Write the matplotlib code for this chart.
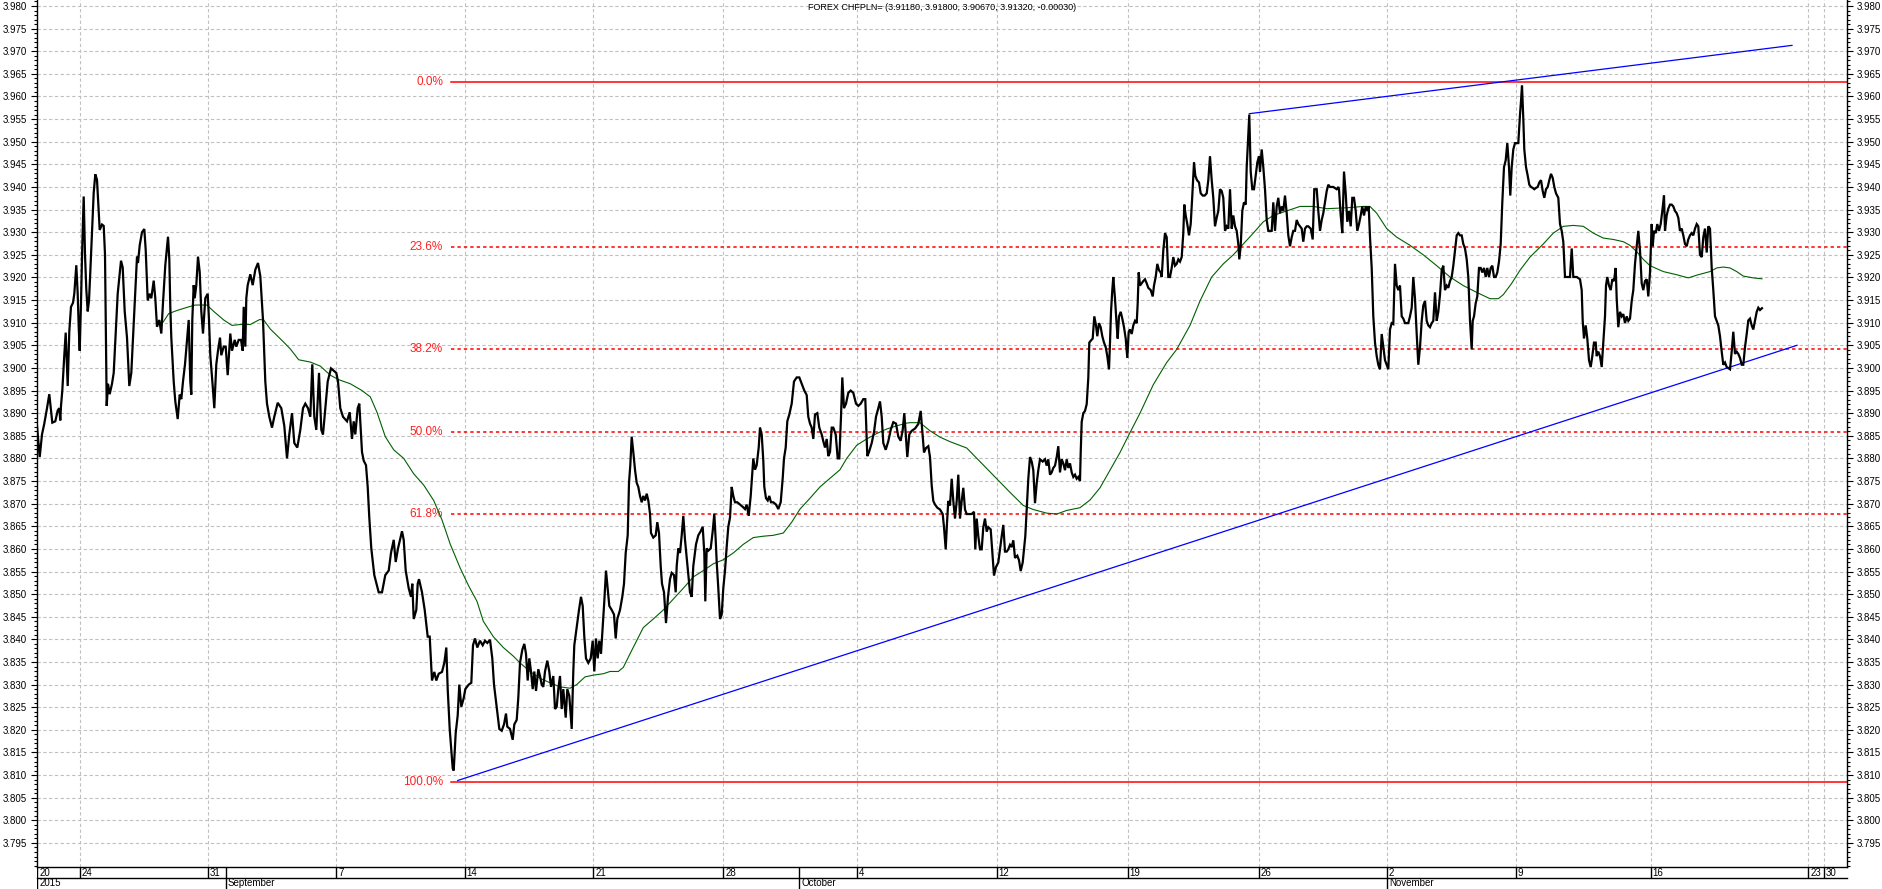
import numpy as np
import matplotlib
matplotlib.use("Agg")
import matplotlib.pyplot as plt
from matplotlib.ticker import MultipleLocator, FormatStrFormatter, FixedLocator

plt.rcParams['font.family'] = ['Liberation Sans', 'DejaVu Sans']

# ---------------- data ----------------
title = "FOREX CHFPLN= (3.91180, 3.91800, 3.90670, 3.91320, -0.00030)"

# price (bar index, value), in four segments
seg1_x = [0,2.7,5,7.3,10,12.3,14,15.3,18.3,20.7,22.3,23.3,24,25.3,27.3,28.7,30.7,32.3,34,36,37.3,39.3,40.7,41.7,42.7,44,45.3,46.7,48,49.3,50.7,52,53.3,55,56.7,58.3,60,61.3,62.7,65,66.7,68,68.7,69.7,71,72.7,75,76.7,78.7,80.7,84,85.7,87.7,90,92.3,94.3,96,97.7,100,101,102.7,105,107.3,108.7,110.7,112.7,114.3,116.7,118.3,120,122.3,124.3,126,128.3,131,132.3,133.3,134.3,135.3,136.7,138.3,140.7,142.7,144.3,146,148,150,151.7,153.3,154.3,155.3,156.7,157.7,159.3,161,162.7,164.3,166,168.3,170.7,172,173.3,175.7,177.3,179.3,181,183,184.3,186.7,188.7,190.7,191.7,193.3,195,197.7,199.3,201.7,204,205.7,206.7,208.3,209.3,210.7,213.3,215.7,218.3,221,223.3,226,228.3,230,232.3,235,237.3,240.7,244.3,247.3,250,252.3,255,257.3,260.3,263.3,266,268.3,271,273.3,275.3,277.3,279.3,282,284.3,286,288.3,290.7,294,296.7,299.3,301,303.3,306,310,312.7,315,316.7,318.3,320.7,322.3,323.3,325,326.7,329,330.7,332.3,334.3,337.3,341.7,345,348.3,351.7,354,356.7,358.7,361,365,366.7,368.7,371.7,374,375.3,376.7,379.3,380.7,382,385,387.7,390.7,392.7,395,397.3,399.3,401.7,405,407.3,409.3,410.7,412.7,414,415.7,416.7,418.7,420.7,422.3,424.3,426.7,428.3,431.7,434.3,436,438]
seg1_y = [3.8872,3.8803,3.8853,3.8877,3.8911,3.8942,3.8906,3.8879,3.8882,3.8906,3.8911,3.8884,3.8916,3.8950,3.9028,3.9078,3.8960,3.9081,3.9135,3.9144,3.9164,3.9227,3.9164,3.9091,3.9038,3.9144,3.9271,3.9379,3.9251,3.9174,3.9125,3.9149,3.9212,3.9300,3.9387,3.9428,3.9416,3.9363,3.9305,3.9317,3.9314,3.9251,3.9106,3.8916,3.8965,3.8942,3.8965,3.8989,3.9076,3.9164,3.9237,3.9222,3.9125,3.9067,3.8960,3.8989,3.9067,3.9149,3.9246,3.9232,3.9271,3.9300,3.9307,3.9261,3.9149,3.9164,3.9154,3.9193,3.9154,3.9091,3.9106,3.9076,3.9144,3.9227,3.9290,3.9241,3.9135,3.9067,3.9028,3.8970,3.8926,3.8887,3.8941,3.8931,3.8970,3.9008,3.9062,3.9106,3.8970,3.8941,3.9106,3.9183,3.9154,3.9183,3.9246,3.9212,3.9125,3.9076,3.9154,3.9164,3.9106,3.9028,3.8960,3.8911,3.9008,3.9038,3.9067,3.9028,3.9047,3.9047,3.8984,3.9018,3.9076,3.9038,3.9062,3.9047,3.9062,3.9062,3.9038,3.9135,3.9047,3.9154,3.9183,3.9207,3.9183,3.9217,3.9232,3.9203,3.9106,3.8970,3.8921,3.8892,3.8868,3.8892,3.8923,3.8911,3.8872,3.8800,3.8853,3.8900,3.8834,3.8824,3.8863,3.8911,3.8921,3.8911,3.8892,3.9008,3.8892,3.8863,3.8989,3.8863,3.8853,3.8911,3.8970,3.8999,3.8994,3.8989,3.8970,3.8911,3.8892,3.8882,3.8902,3.8843,3.8882,3.8853,3.8911,3.8921,3.8882,3.8814,3.8795,3.8785,3.8737,3.8669,3.8601,3.8542,3.8504,3.8504,3.8542,3.8552,3.8591,3.8620,3.8571,3.8601,3.8639,3.8620,3.8552,3.8513,3.8494,3.8523,3.8445,3.8465,3.8523,3.8533,3.8504,3.8465,3.8406,3.8406,3.8309,3.8328,3.8309,3.8324,3.8328,3.8348,3.8382,3.8290,3.8202,3.8164,3.8115,3.8110,3.8193,3.8232,3.8300,3.8251,3.8270,3.8290,3.8300,3.8304,3.8387,3.8402]

seg2_x = [440.3,443,445.7,448,450.3,453,455.3,457,459.7,462.3,464.7,467,469,470.3,473,475.7,477.3,479.7,481.3,483,485.3,487.3,489,490.7,492.3,494,495.7,497.3,499,501.3,503,504.7,506.3,508,510.3,512.3,514,516.3,518,519.7,521.3,523,524.7,526.3,528.7,530.3,532.3,534.7,536.3,537.3,539.7,542,544,545.7,547.3,549,551.3,553.7,555.7,557.3,559,560.7,562.3,564,565.7,567.3,569,570.7,572.3,574.7,577,578.7,580.3,583,585.3,587,588.7,590.7,592,593.3,594.7,596.3,598,599.7,601.3,603,604.7,606.3,608,609.7,611.3,613,614,616.3,618.7,620.3,622,623.7,625,627,629,631,633,634.7,637,638.7,639.7,641.3,643,644.7,646.3,648,649.7,651.3,653,654.7,656.3,659,661.3,663.7,665.7,667.3,668.3,669.7,671.3,673.7,675.7,677.3,678.7,679.7,681.3,683,684.7,686.3,688,689.7,691.3,693,694.7,696.3,698,700.3,703,705.7,708,709.7,711.7,713.7,715.3,716.3,718,719.7,721.7,723,724.7,726.3,727.3,729,730.7,732.3,734,736.3,739,741.3,743.7,745.7,747,748.7,750.3,752.3,754.7,757,759.7,762.3,764.7,767.3,769.7,771.3,773,774.7,776.3,778,780.3,782.3,784.7,786.3,788,789.7,791.3,793,794.7,796.3,798.7,800.7,802.3,804,805.3,807,809,811.3,813.7,816.3,819,821.3,823.7,826.3,828.3,830.3,832,834.7,837,839,841.3,843,844.7,846.3,848.7,851.3,853.7,856.3,859,861.3,863.7,865.7,867.3,868.7,870.3,872.3]
seg2_y = [3.8382,3.8397,3.8387,3.8397,3.8392,3.8399,3.8358,3.8300,3.8251,3.8202,3.8198,3.8212,3.8236,3.8207,3.8202,3.8178,3.8212,3.8222,3.8271,3.8348,3.8377,3.8390,3.8368,3.8309,3.8358,3.8329,3.8290,3.8329,3.8286,3.8334,3.8319,3.8300,3.8295,3.8329,3.8353,3.8329,3.8295,3.8319,3.8246,3.8251,3.8290,3.8319,3.8246,3.8290,3.8227,3.8290,3.8275,3.8202,3.8329,3.8387,3.8426,3.8465,3.8494,3.8474,3.8406,3.8358,3.8348,3.8358,3.8397,3.8329,3.8402,3.8358,3.8397,3.8368,3.8426,3.8484,3.8552,3.8513,3.8474,3.8465,3.8455,3.8402,3.8445,3.8465,3.8494,3.8523,3.8591,3.8630,3.8746,3.8785,3.8848,3.8814,3.8775,3.8746,3.8737,3.8717,3.8703,3.8717,3.8707,3.8722,3.8707,3.8678,3.8635,3.8625,3.8630,3.8659,3.8635,3.8562,3.8523,3.8504,3.8436,3.8494,3.8533,3.8547,3.8542,3.8504,3.8562,3.8601,3.8591,3.8630,3.8673,3.8620,3.8581,3.8542,3.8504,3.8494,3.8562,3.8610,3.8630,3.8639,3.8649,3.8591,3.8484,3.8601,3.8596,3.8601,3.8639,3.8678,3.8620,3.8571,3.8513,3.8445,3.8455,3.8513,3.8552,3.8605,3.8649,3.8669,3.8737,3.8717,3.8703,3.8703,3.8698,3.8693,3.8688,3.8698,3.8673,3.8717,3.8766,3.8800,3.8775,3.8785,3.8824,3.8868,3.8853,3.8795,3.8737,3.8712,3.8707,3.8717,3.8703,3.8703,3.8698,3.8688,3.8703,3.8756,3.8800,3.8824,3.8882,3.8897,3.8921,3.8970,3.8979,3.8979,3.8965,3.8950,3.8940,3.8892,3.8877,3.8868,3.8843,3.8897,3.8900,3.8868,3.8853,3.8838,3.8824,3.8843,3.8805,3.8814,3.8868,3.8868,3.8853,3.8800,3.8800,3.8892,3.8979,3.8911,3.8921,3.8945,3.8950,3.8945,3.8921,3.8916,3.8921,3.8931,3.8931,3.8805,3.8814,3.8834,3.8858,3.8892,3.8911,3.8926,3.8892,3.8834,3.8819,3.8838,3.8863,3.8880,3.8877,3.8848,3.8839,3.8863,3.8900,3.8853,3.8803,3.8853]

seg3_x = [874.7,878,881.3,883.7,885.3,887,889,891.3,893,894.7,896.3,898,900.3,903,905.7,907,908.7,910,911.3,913,914.7,916.3,918,919.7,921.3,923,924.7,926.3,928,929.7,932.3,934.7,937,938.3,939.7,941.3,943,944.7,946.3,948,949.7,951.3,953.7,955.3,957,959,961.3,963,964.7,966.3,968,969.7,971.3,973,974.7,976.3,978,980.3,982,983.7,985.7,987,988.3,989.7,991.3,993,994.7,996.3,998,999.7,1001.3,1003,1005.7,1008,1009.7,1011.3,1013,1014.7,1016.3,1018,1019.7,1021.3,1023,1024.7,1026.3,1028,1029.7,1031.3,1033,1034.7,1036.3,1038,1039.7,1041.3,1043,1043.7,1044.7,1046.3,1048,1049.7,1051.3,1052.3,1053.7,1055.7,1057.3,1059,1060.3,1062,1063.7,1065.3,1067,1068.7,1070.3,1072,1073,1074,1075.3,1076.3,1078,1079.7,1080.7,1082,1083.7,1085.3,1087,1088.7,1090.3,1091.7,1093,1094.7,1096.3,1098,1099.7,1100.7,1101.7,1103,1104.7,1106.3,1108,1109.7,1111.3,1113.7,1115.7,1117,1118.7,1120.3,1122,1123.7,1124.7,1126.3,1128,1129.7,1131.3,1133,1134.7,1136.3,1138,1139.7,1141.3,1143,1144.7,1146.3,1147.3,1148.7,1150.3,1152,1153.7,1155.3,1157,1158.3,1160,1162,1163.7,1165.7,1167.7,1169.7,1171.3,1173,1174.7,1176.3,1178,1179.7,1181.3,1183,1184.7,1186.3,1188,1189.7,1191.3,1193,1194.7,1196.3,1198,1199.7,1201.3,1202.3,1203.7,1205.3,1207,1208.7,1209.7,1211,1212.3,1213.7,1215.3,1217,1218.7,1220.3,1222,1223,1224.7,1226.3,1228,1229.7,1231.3,1233,1234.7,1236.3,1238,1239.7,1241.3,1243,1244.7,1246.3,1248,1249.7,1251.3,1253,1254.7,1256.3,1258,1259.7,1261.3,1263,1264.7,1266.3,1268,1269.7,1271.3,1273.7,1275.7,1277.3,1279.7,1281.3,1283,1284.7,1286.3,1288,1289.7,1291.3,1293,1296.3,1299.7,1301.3]
seg3_y = [3.8861,3.8866,3.8876,3.8905,3.8861,3.8813,3.8823,3.8827,3.8803,3.8740,3.8706,3.8698,3.8691,3.8687,3.8677,3.8648,3.8599,3.8657,3.8706,3.8696,3.8755,3.8706,3.8667,3.8706,3.8764,3.8667,3.8706,3.8735,3.8687,3.8677,3.8677,3.8677,3.8682,3.8599,3.8667,3.8628,3.8599,3.8599,3.8648,3.8667,3.8638,3.8648,3.8643,3.8594,3.8541,3.8560,3.8570,3.8599,3.8628,3.8653,3.8594,3.8594,3.8599,3.8609,3.8604,3.8619,3.8580,3.8585,3.8575,3.8551,3.8570,3.8599,3.8628,3.8687,3.8755,3.8803,3.8793,3.8774,3.8701,3.8745,3.8774,3.8798,3.8793,3.8798,3.8784,3.8798,3.8764,3.8769,3.8779,3.8784,3.8803,3.8827,3.8769,3.8798,3.8789,3.8774,3.8798,3.8779,3.8789,3.8769,3.8759,3.8764,3.8755,3.8759,3.8750,3.8813,3.8881,3.8900,3.8905,3.8920,3.8978,3.9056,3.9060,3.9065,3.9114,3.9094,3.9070,3.9099,3.9090,3.9070,3.9056,3.9046,3.9026,3.8997,3.9056,3.9124,3.9172,3.9201,3.9153,3.9094,3.9065,3.9114,3.9124,3.9109,3.9090,3.9065,3.9022,3.9080,3.9085,3.9075,3.9094,3.9104,3.9099,3.9143,3.9211,3.9182,3.9187,3.9192,3.9196,3.9187,3.9177,3.9172,3.9158,3.9182,3.9201,3.9230,3.9216,3.9211,3.9201,3.9260,3.9298,3.9289,3.9201,3.9201,3.9221,3.9245,3.9226,3.9230,3.9240,3.9235,3.9245,3.9298,3.9361,3.9337,3.9318,3.9293,3.9318,3.9381,3.9454,3.9425,3.9415,3.9410,3.9386,3.9381,3.9381,3.9386,3.9415,3.9468,3.9415,3.9376,3.9313,3.9332,3.9347,3.9395,3.9391,3.9376,3.9303,3.9313,3.9308,3.9395,3.9308,3.9337,3.9313,3.9303,3.9274,3.9240,3.9269,3.9347,3.9366,3.9361,3.9444,3.9502,3.9560,3.9434,3.9395,3.9395,3.9425,3.9454,3.9468,3.9434,3.9483,3.9444,3.9395,3.9327,3.9303,3.9303,3.9303,3.9366,3.9303,3.9357,3.9376,3.9342,3.9357,3.9347,3.9381,3.9342,3.9293,3.9269,3.9289,3.9303,3.9303,3.9327,3.9318,3.9313,3.9308,3.9279,3.9308,3.9313,3.9313,3.9308,3.9284,3.9395,3.9395,3.9347,3.9303,3.9327,3.9342,3.9366,3.9391,3.9405,3.9400,3.9400,3.9395,3.9400]

seg4_x = [1302,1303.7,1305.3,1307,1308.7,1310.3,1312,1313.7,1315.3,1317,1318.7,1320.3,1322,1323.7,1325.3,1327,1328.7,1330.3,1331.7,1333,1334.7,1336.3,1338,1339.7,1341.3,1343,1344.7,1346.3,1348,1349.7,1351.3,1353,1354.7,1356.3,1358,1359.7,1361.3,1363,1364.7,1366.3,1368,1369.7,1371.3,1373,1374.7,1376.3,1378,1379.7,1381.3,1383,1384.7,1386.3,1388,1389.7,1391.3,1393,1394.7,1396.3,1398,1399.7,1401.3,1403,1404.7,1406.3,1408,1409.7,1411.3,1413,1414.7,1416.3,1418,1419.7,1421.3,1423,1424.7,1426.3,1428,1429.7,1431.3,1433,1434.7,1435.7,1437,1438.7,1440.3,1442,1443.7,1445.3,1447,1448.7,1450.3,1452,1453.7,1455.3,1457,1458.7,1460.3,1462,1463.7,1465.3,1467,1468.7,1470.3,1472,1473.3,1474.7,1476.3,1478,1479.7,1481.3,1483,1484,1485,1486.3,1487.3,1489,1490.7,1492.3,1494,1495.7,1497.3,1499,1500.7,1502.3,1504,1505.7,1507.3,1509,1510.7,1512.3,1514,1515.7,1517.3,1519,1521.3,1523,1524.7,1526.3,1528,1531.3,1533,1534.7,1536.3,1539.7,1543,1544.7,1545.7,1547,1548.7,1550.3,1552,1553.7,1555.3,1557,1558.7,1559.7,1561.3,1563,1564.7,1566.3,1568,1569,1570.3,1572,1573.7,1575.3,1577,1578.7,1579.7,1581.3,1583,1584.7,1586.3,1588,1589.7,1591.3,1593,1594.7,1596.3,1598,1599.7,1601.3,1603,1604.7,1606.3,1608,1609.7,1611.3,1613,1614.7,1615.7,1617,1618.7,1620.3,1622,1623.7,1625.3,1627,1628,1629.7,1631.3,1633,1634.7,1636.3,1638,1639.7,1641.3,1643,1644.7,1646.3,1648,1649.7,1651.3,1653,1654.7,1656.3,1658,1659.7,1661.3,1663,1664.7,1666.3,1668,1669.7,1671.3,1673,1674.7,1676.3,1678,1679.7,1681.3,1683,1684.7,1686.3,1688,1689.7,1693,1694.7,1696.3,1698,1699.7,1701.3,1703,1704.7,1706.3,1708,1709.7,1711.3,1713,1714.7,1716.3,1718,1719.7,1721.3,1723,1725]
seg4_y = [3.9395,3.9337,3.9298,3.9434,3.9386,3.9323,3.9347,3.9313,3.9376,3.9376,3.9347,3.9303,3.9318,3.9337,3.9357,3.9337,3.9357,3.9347,3.9357,3.9289,3.9221,3.9114,3.9056,3.9026,3.9007,3.8997,3.9075,3.9046,3.9017,3.9007,3.8997,3.9085,3.9099,3.9097,3.9230,3.9182,3.9172,3.9182,3.9114,3.9109,3.9099,3.9099,3.9099,3.9114,3.9133,3.9201,3.9153,3.9075,3.9007,3.9046,3.9104,3.9138,3.9148,3.9104,3.9094,3.9090,3.9099,3.9104,3.9167,3.9104,3.9124,3.9162,3.9216,3.9226,3.9172,3.9182,3.9177,3.9192,3.9201,3.9226,3.9260,3.9293,3.9298,3.9293,3.9293,3.9274,3.9264,3.9240,3.9201,3.9104,3.9041,3.9104,3.9114,3.9143,3.9158,3.9221,3.9221,3.9211,3.9221,3.9201,3.9221,3.9201,3.9221,3.9226,3.9201,3.9201,3.9211,3.9235,3.9274,3.9366,3.9444,3.9459,3.9497,3.9444,3.9381,3.9444,3.9483,3.9497,3.9497,3.9497,3.9560,3.9590,3.9624,3.9551,3.9483,3.9444,3.9425,3.9405,3.9400,3.9398,3.9395,3.9398,3.9400,3.9410,3.9415,3.9391,3.9376,3.9395,3.9400,3.9415,3.9429,3.9420,3.9400,3.9386,3.9376,3.9318,3.9303,3.9279,3.9201,3.9201,3.9201,3.9264,3.9201,3.9201,3.9196,3.9172,3.9104,3.9065,3.9094,3.9065,3.9017,3.9002,3.9026,3.9056,3.9056,3.9026,3.9036,3.9026,3.9002,3.9056,3.9114,3.9182,3.9201,3.9182,3.9172,3.9196,3.9192,3.9221,3.9153,3.9090,3.9124,3.9114,3.9119,3.9099,3.9114,3.9104,3.9109,3.9148,3.9172,3.9230,3.9269,3.9303,3.9260,3.9187,3.9172,3.9192,3.9196,3.9158,3.9211,3.9318,3.9269,3.9303,3.9298,3.9318,3.9303,3.9318,3.9347,3.9381,3.9303,3.9337,3.9352,3.9361,3.9361,3.9357,3.9347,3.9342,3.9332,3.9303,3.9308,3.9293,3.9274,3.9269,3.9284,3.9293,3.9298,3.9293,3.9308,3.9318,3.9313,3.9250,3.9245,3.9289,3.9308,3.9255,3.9313,3.9308,3.9221,3.9172,3.9114,3.9104,3.9094,3.9070,3.9036,3.9007,3.9012,3.9002,3.8997,3.9036,3.9080,3.9031,3.9036,3.9031,3.9022,3.9007,3.9007,3.9046,3.9075,3.9105,3.9109,3.9094,3.9085,3.9104,3.9124,3.9133,3.9128,3.9132]

# moving average (green)
ma_x = [126,131.7,140,151.7,158.3,170,176.7,186.7,195,203.3,213.3,222.7,226.7,233.3,246.7,253.3,261.7,273.3,283.3,293.3,301.7,313.3,325,333.3,340,348.3,356.7,366.7,376.7,386.7,396.7,405,413.3,423.3,431.7,440,446.3,456.3,466.3,476.3,483,493,503,513,523,533,539.7,548,556.3,566.3,573,581.3,586.3,593,599.7,606.3,616.3,626.3,636.3,646.3,656.3,666.3,676.3,686.3,696.3,706.3,716.3,726.3,736.3,746.3,754.7,763,773,783,793,803,809.7,819.7,829.7,839.7,849.7,859.7,869.7,873,883,893,903,913,929.7,943,959.7,973,986.3,996.3,1009.7,1019.7,1029.7,1043,1053,1063,1073,1083,1093,1103,1116.3,1129.7,1139.7,1153,1163,1174.7,1186.3,1196.3,1206.3,1216.3,1226.3,1236.3,1249.7,1263,1276.3,1289.7,1309.7,1326.3,1333,1339.7,1349.7,1359.7,1373,1386.3,1399.7,1413,1426.3,1439.7,1453,1461.3,1466.3,1474.7,1483,1493,1506.3,1516.3,1526.3,1536.3,1546.3,1556.3,1566.3,1576.3,1586.3,1593,1599.7,1606.3,1613,1626.3,1639.7,1651.3,1659.7,1673,1679.7,1686.3,1693,1699.7,1706.3,1716.3,1725]
ma_y = [3.9101,3.9120,3.9127,3.9135,3.9139,3.9139,3.9125,3.9106,3.9094,3.9096,3.9096,3.9107,3.9106,3.9086,3.9057,3.9042,3.9018,3.9013,3.9004,3.8984,3.8974,3.8965,3.8950,3.8936,3.8902,3.8848,3.8819,3.8800,3.8766,3.8741,3.8707,3.8664,3.8610,3.8557,3.8518,3.8484,3.8440,3.8406,3.8382,3.8363,3.8348,3.8329,3.8314,3.8304,3.8295,3.8292,3.8300,3.8317,3.8321,3.8324,3.8329,3.8329,3.8338,3.8368,3.8397,3.8426,3.8445,3.8465,3.8489,3.8513,3.8538,3.8552,3.8567,3.8576,3.8591,3.8610,3.8625,3.8628,3.8630,3.8635,3.8659,3.8688,3.8712,3.8737,3.8756,3.8775,3.8800,3.8829,3.8843,3.8855,3.8865,3.8872,3.8878,3.8879,3.8879,3.8861,3.8847,3.8837,3.8823,3.8793,3.8755,3.8725,3.8696,3.8687,3.8679,3.8677,3.8685,3.8691,3.8708,3.8735,3.8774,3.8813,3.8857,3.8900,3.8963,3.9012,3.9041,3.9094,3.9148,3.9201,3.9230,3.9250,3.9274,3.9298,3.9323,3.9337,3.9347,3.9357,3.9357,3.9352,3.9354,3.9357,3.9357,3.9342,3.9308,3.9289,3.9271,3.9250,3.9226,3.9201,3.9182,3.9167,3.9153,3.9153,3.9162,3.9187,3.9216,3.9245,3.9274,3.9298,3.9313,3.9315,3.9313,3.9298,3.9287,3.9284,3.9279,3.9271,3.9257,3.9240,3.9226,3.9213,3.9206,3.9199,3.9205,3.9213,3.9221,3.9223,3.9221,3.9213,3.9203,3.9199,3.9197]

# trend lines (blue): (x0, y0, x1, y1)
support_line = (420.7, 3.8088, 1760, 3.9050)
resist_line = (1212.3, 3.9562, 1755, 3.9713)

# fibonacci retracement
fib_high = 3.9633
fib_low = 3.8085
fib_ratios = [0.0, 0.236, 0.382, 0.5, 0.618, 1.0]
fib_labels = ["0.0%", "23.6%", "38.2%", "50.0%", "61.8%", "100.0%"]
fib_start = 414

# x axis (bar index) date ticks
day_ticks = [0, 42.7, 170.7, 299.3, 427.7, 556.3, 686.3, 819.7, 959.7, 1090.7, 1221.7, 1349.7, 1478.7, 1613.7, 1771, 1787]
day_labels = ["20", "24", "31", "7", "14", "21", "28", "4", "12", "19", "26", "2", "9", "16", "23", "30"]
month_ticks = [0, 188.7, 762, 1349.7]
month_labels = ["2015", "September", "October", "November"]
y_major = [3.795, 3.800, 3.805, 3.810, 3.815, 3.820, 3.825, 3.830, 3.835, 3.840,
           3.845, 3.850, 3.855, 3.860, 3.865, 3.870, 3.875, 3.880, 3.885, 3.890,
           3.895, 3.900, 3.905, 3.910, 3.915, 3.920, 3.925, 3.930, 3.935, 3.940,
           3.945, 3.950, 3.955, 3.960, 3.965, 3.970, 3.975, 3.980]
x_max = 1810
y_min, y_max = 3.78968, 3.98133

# ---------------- figure ----------------
W, H = 1883, 889
fig = plt.figure(figsize=(W / 100, H / 100), dpi=100)
ax = fig.add_axes([37 / W, 22 / H, 1810 / W, 867 / H])
ax.set_xlim(0, x_max)
ax.set_ylim(y_min, y_max)

grid_kw = dict(color='#c0c0c0', lw=0.8, ls=(0, (3.0, 2.2)), zorder=0)
for t in day_ticks[1:]:
    ax.axvline(t, **grid_kw)
for v in y_major:
    ax.axhline(v, **grid_kw)

# fibonacci
rng = fib_high - fib_low
for r, lab in zip(fib_ratios, fib_labels):
    lvl = fib_high - r * rng
    solid = r in (0.0, 1.0)
    ax.plot([fib_start, x_max], [lvl, lvl], color='#ff0000', lw=1.1,
            ls='-' if solid else (0, (2.2, 2.0)), zorder=2)
    ax.text(fib_start - 8, lvl, lab, color='#ff2020', fontsize=8.5,
            ha='right', va='center', zorder=3)

# trend lines
for (x0, y0, x1, y1) in (support_line, resist_line):
    ax.plot([x0, x1], [y0, y1], color='#0000ff', lw=0.9, zorder=3)

# moving average
ax.plot(ma_x, ma_y, color='#006000', lw=0.8, zorder=4)

# price
px = seg1_x + seg2_x + seg3_x + seg4_x
py = seg1_y + seg2_y + seg3_y + seg4_y
ax.plot(px, py, color='black', lw=1.6, zorder=5, solid_joinstyle='miter')

# axes styling
ax.set_xticks([])
ax.yaxis.set_major_locator(FixedLocator(y_major))
ax.yaxis.set_minor_locator(MultipleLocator(0.001))
ax.yaxis.set_major_formatter(FormatStrFormatter('%.3f'))
ax.tick_params(axis='y', which='both', left=True, right=True,
               labelleft=True, labelright=True, direction='out',
               labelsize=7, colors='black', width=0.8)
ax.tick_params(axis='y', which='major', length=4, pad=3)
ax.tick_params(axis='y', which='minor', length=2)
ax.spines['top'].set_visible(False)
for s in ('left', 'right', 'bottom'):
    ax.spines[s].set_color('black')
    ax.spines[s].set_linewidth(1.0)

ax.text(0.5, 0.997, title, transform=ax.transAxes, fontsize=6.5,
        ha='center', va='top', color='black', zorder=6)

# date rows
dax = fig.add_axes([37 / W, 0, 1810 / W, 22 / H])
dax.set_xlim(0, x_max)
dax.set_ylim(0, 2)
dax.axis('off')
dax.plot([0, x_max], [1, 1], color='black', lw=1.0, clip_on=False)
row1_sep = sorted(set(day_ticks + month_ticks))
dax.vlines(row1_sep, 1, 2, color='black', lw=1.0)
dax.vlines(month_ticks, 0, 1, color='black', lw=1.0)
for t, lab in zip(day_ticks, day_labels):
    dax.annotate(lab, (t, 1.5), xytext=(1.5, 0), textcoords='offset points',
                 fontsize=7, ha='left', va='center')
for t, lab in zip(month_ticks, month_labels):
    dax.annotate(lab, (t, 0.5), xytext=(1.5, 0), textcoords='offset points',
                 fontsize=7, ha='left', va='center')

fig.savefig('out.png', dpi=100)
